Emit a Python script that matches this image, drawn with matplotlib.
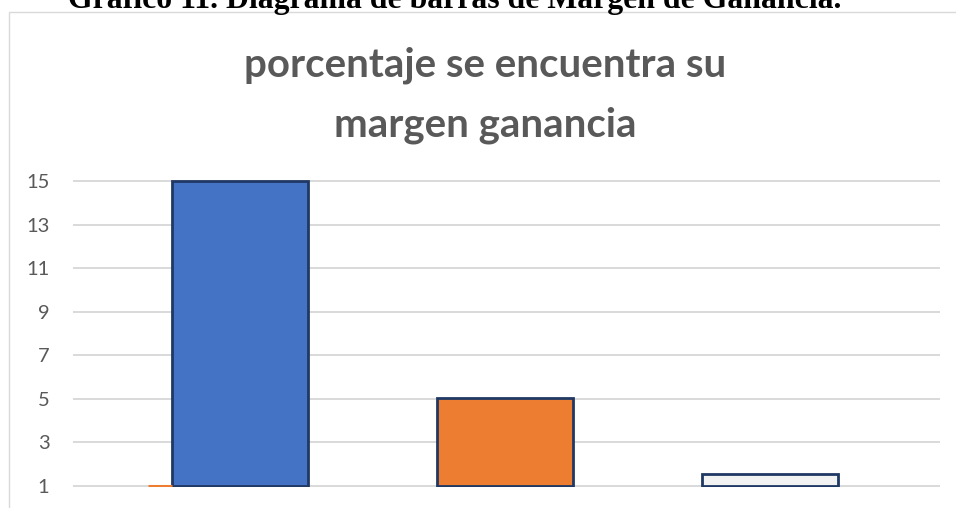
import matplotlib
matplotlib.use("Agg")
from matplotlib import pyplot as plt
from matplotlib.patches import Rectangle

# data
categories = ["A", "B", "C"]
values = [15, 5.05, 1.55]
bar_colors = ["#4472C4", "#ED7D31", "#F2F2F2"]
sliver_value = 1  # tiny orange mark left of the first bar
y_ticks = [1, 3, 5, 7, 9, 11, 13, 15]

header = "Gráfico 11. Diagrama de barras de Margen de Ganancia."
title_lines = ["porcentaje se encuentra su", "margen ganancia"]

W, H = 956, 508
plt.rcParams["font.family"] = ["Lato", "DejaVu Sans"]

fig = plt.figure(figsize=(W / 100, H / 100), dpi=100)


def px(x, y):
    return x / W, 1 - y / H


# chart frame (right and bottom edges fall outside the picture)
fig.patches.append(Rectangle(px(9, 520), (W + 20) / W, (520 - 12) / H,
                             transform=fig.transFigure, fill=False,
                             edgecolor="#D9D9D9", linewidth=1.0))

fig.text(*px(68, 8), header, family="Liberation Serif", weight="bold",
         fontsize=22.9, ha="left", va="baseline", color="black")

x0, y0 = px(73, 487.1)
ax = fig.add_axes([x0, y0, 867 / W, 307.2 / H])

pos = list(range(len(categories)))
ax.bar(pos, [v - 1 for v in values], bottom=1, width=0.513,
       color=bar_colors, edgecolor="#1F3864", linewidth=2.0, zorder=3)
ax.hlines(sliver_value, -0.347, -0.257, color="#ED7D31", linewidth=2.2, zorder=3)

ax.set_xlim(-0.63, 2.64)
ax.set_ylim(0.95, 15.05)
ax.set_yticks(y_ticks)
ax.set_xticks([])
ax.grid(axis="y", color="#D9D9D9", linewidth=1.4, zorder=0)
for s in ax.spines.values():
    s.set_visible(False)
ax.tick_params(axis="y", length=0, pad=17, labelsize=14.5, labelcolor="#595959")

for line, y in zip(title_lines, [76, 137]):
    fig.text(*px(485, y), line, fontsize=29, weight="bold",
             color="#595959", ha="center", va="baseline")

fig.savefig("out.png", dpi=100)
